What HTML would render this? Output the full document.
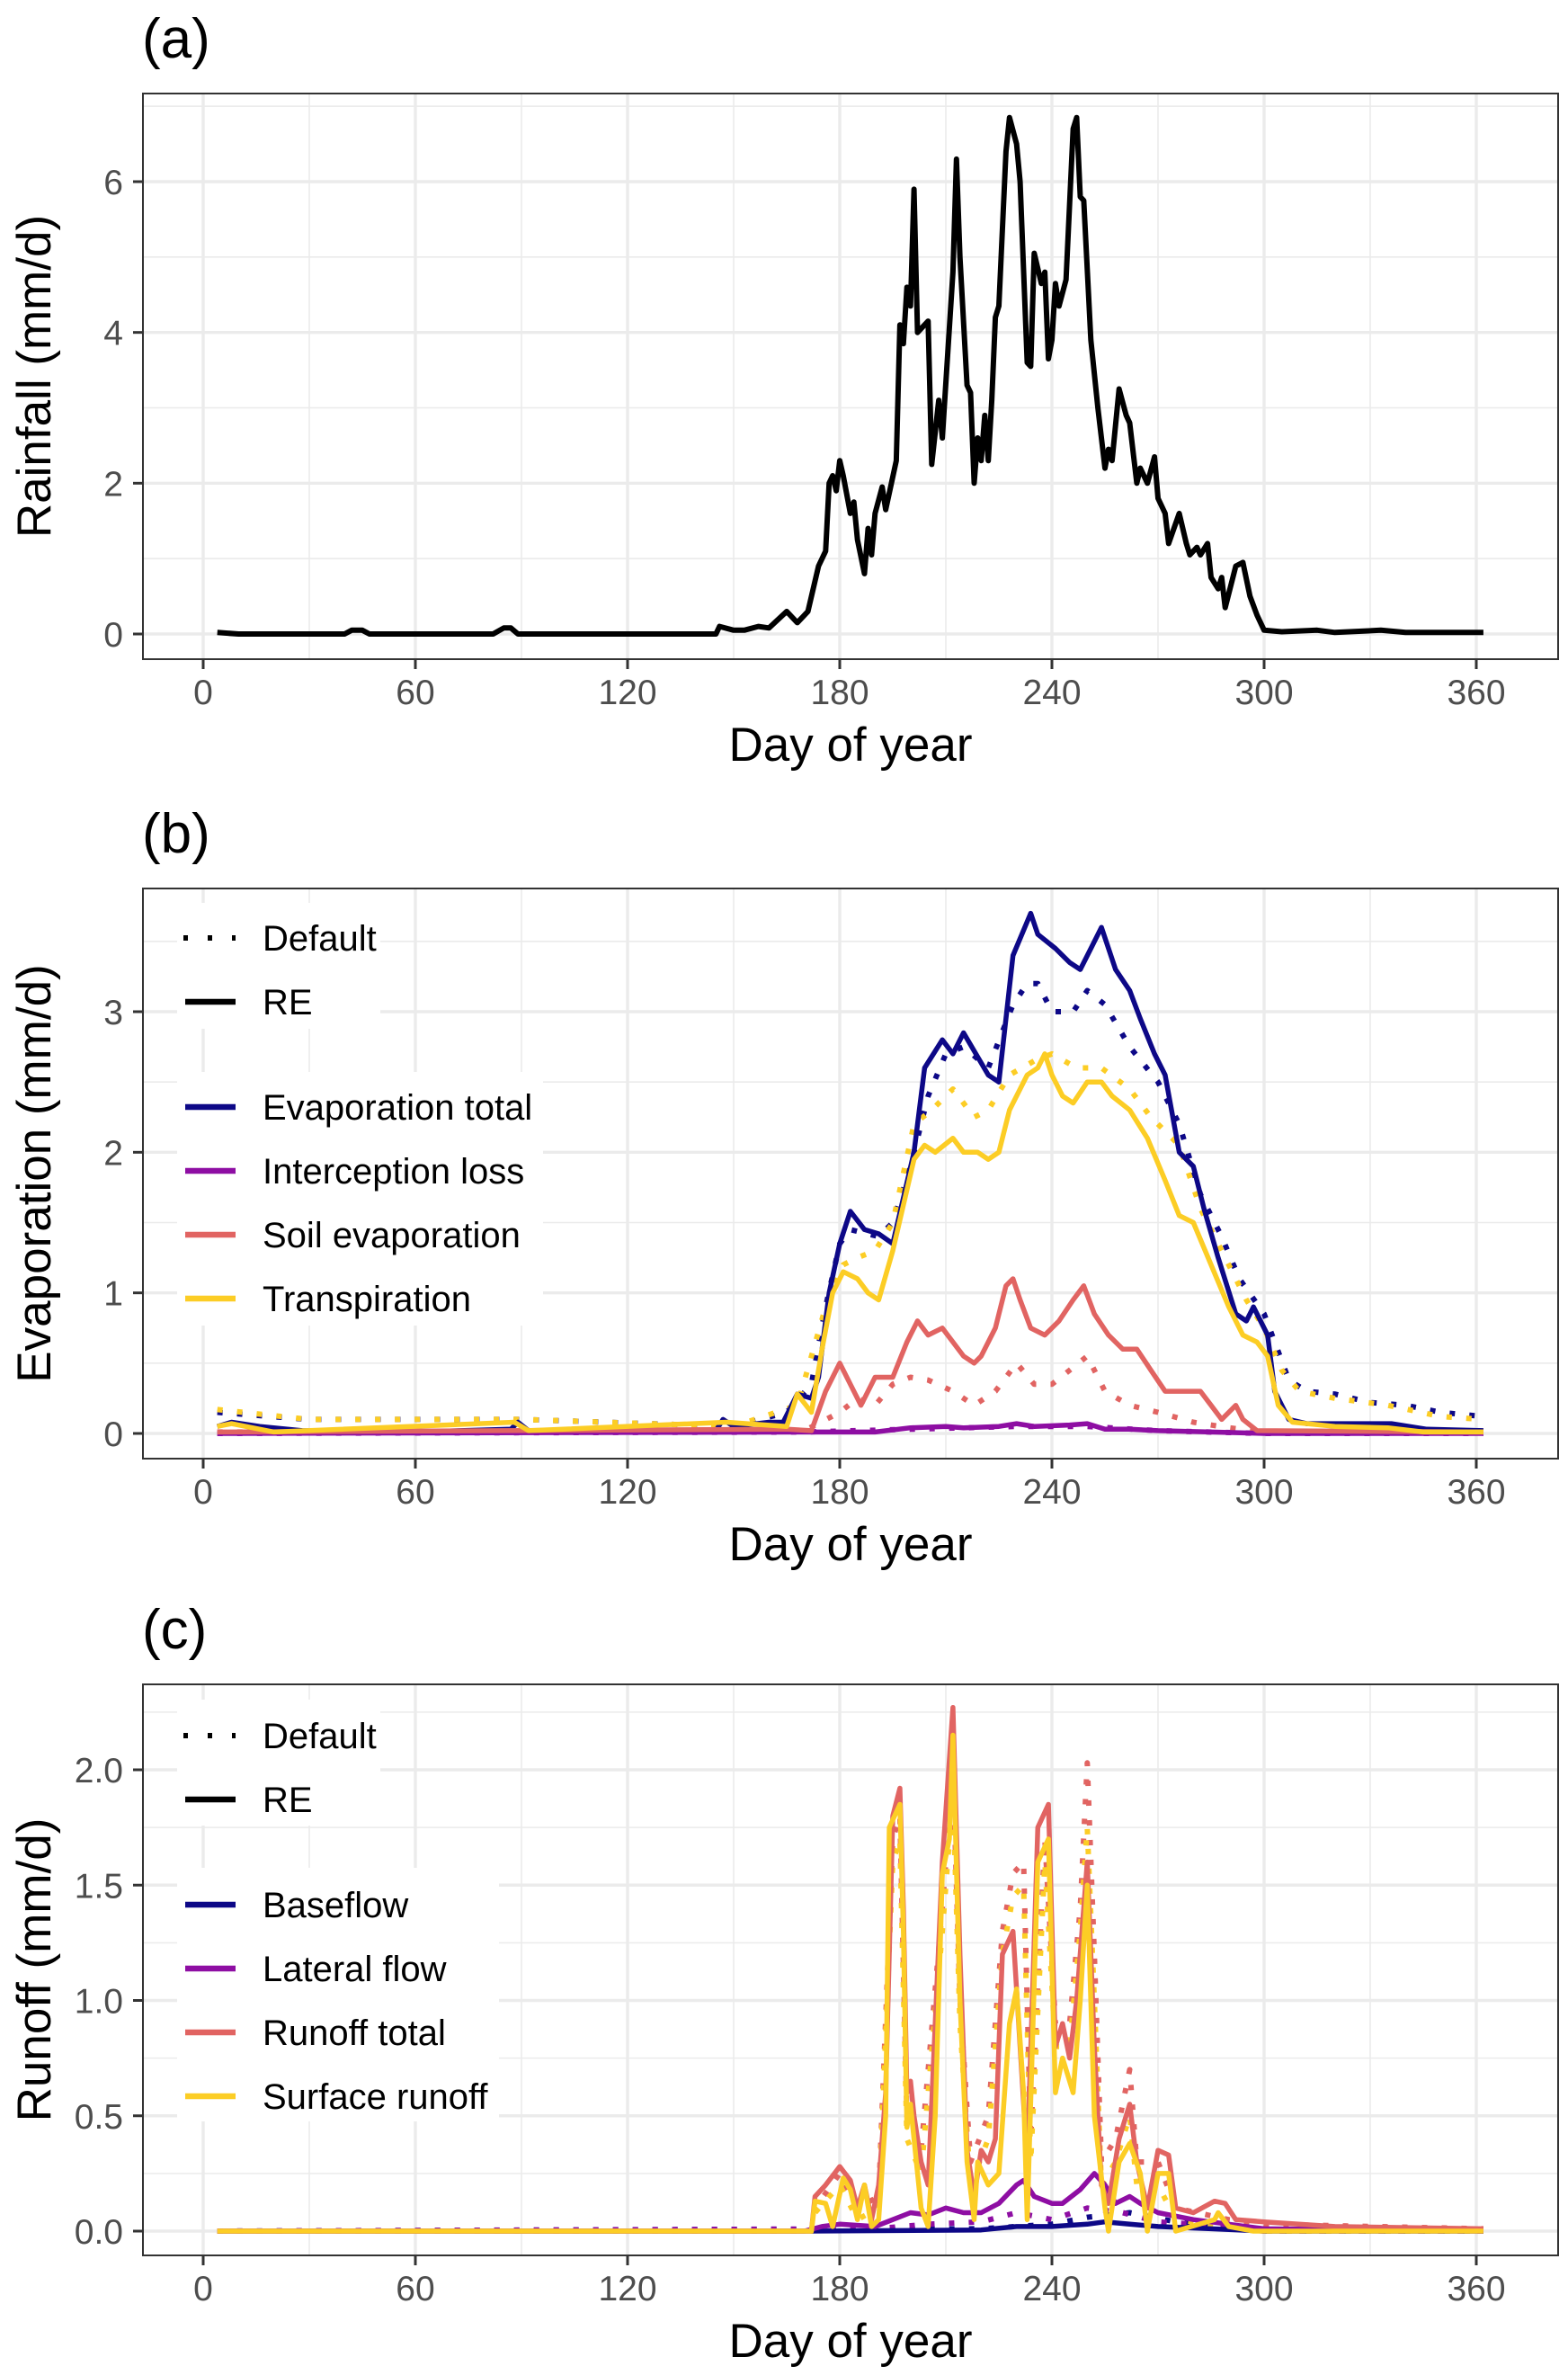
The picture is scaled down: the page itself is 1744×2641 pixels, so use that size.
<!DOCTYPE html>
<html><head><meta charset="utf-8"><style>
html,body{margin:0;padding:0;background:#fff}
svg{display:block}
text{font-family:"Liberation Sans",Arial,sans-serif}
</style></head><body>
<svg id="fig" width="1744" height="2641" viewBox="0 0 1744 2641" xmlns="http://www.w3.org/2000/svg"></svg>
<script>
// ---------- data ----------
const xTicks=[0,60,120,180,240,300,360];
const rainDays=[4,10,40,42,45,47,82,85,87,89,145,146,150,153,157,160,165,168,171,174,176,177,178,179,180,181,183,184,185,187,188,189,190,192,193,196,197,198,199,200,201,202,205,206,208,209,212,213,214,216,217,218,219,220,221,222,223,224,225,227,228,230,231,233,234,235,237,238,239,240,241,242,244,246,247,248,249,251,253,255,256,257,259,261,262,264,265,267,269,270,272,273,276,278,279,281,282,284,285,287,288,289,292,294,296,298,300,305,315,320,333,340,362];
const rainVals=[0.02,0,0,0.05,0.05,0,0,0.08,0.08,0,0,0.1,0.05,0.05,0.1,0.08,0.3,0.15,0.3,0.9,1.1,2.0,2.1,1.9,2.3,2.1,1.6,1.75,1.25,0.8,1.4,1.05,1.6,1.95,1.65,2.3,4.1,3.85,4.6,4.35,5.9,4.0,4.15,2.25,3.1,2.6,4.8,6.3,5.0,3.3,3.2,2.0,2.6,2.3,2.9,2.3,3.1,4.2,4.35,6.4,6.85,6.5,6.0,3.6,3.55,5.05,4.65,4.8,3.65,3.9,4.65,4.35,4.7,6.7,6.85,5.8,5.75,3.9,3.0,2.2,2.45,2.3,3.25,2.9,2.8,2.0,2.2,2.0,2.35,1.8,1.6,1.2,1.6,1.2,1.05,1.15,1.05,1.2,0.75,0.6,0.75,0.35,0.9,0.95,0.5,0.25,0.05,0.03,0.05,0.02,0.05,0.02,0.02];

const etDaysRE=[4,8,16,28,60,87,89,92,145,147,150,160,164,168,172,174,177,180,183,187,191,195,201,204,209,212,215,222,225,229,234,236,241,245,248,251,254,258,262,265,269,272,276,280,283,287,292,295,297,301,303,307,312,320,336,346,362];
const etValsRE=[0.05,0.08,0.05,0.02,0.01,0.03,0.08,0.02,0.02,0.1,0.05,0.08,0.08,0.28,0.25,0.4,1.0,1.35,1.58,1.45,1.42,1.35,2.0,2.6,2.8,2.7,2.85,2.55,2.5,3.4,3.7,3.55,3.45,3.35,3.3,3.45,3.6,3.3,3.15,2.95,2.7,2.55,2.0,1.9,1.6,1.25,0.85,0.8,0.9,0.7,0.3,0.1,0.07,0.07,0.07,0.03,0.02];
const etDaysDef=[4,30,90,150,165,172,176,180,183,191,195,200,205,210,215,222,229,233,236,240,246,250,255,262,270,276,282,288,293,300,303,307,312,320,330,340,350,362];
const etValsDef=[0.15,0.1,0.1,0.05,0.15,0.35,0.9,1.35,1.45,1.4,1.5,1.9,2.4,2.7,2.75,2.6,3.05,3.2,3.2,3.0,3.0,3.15,3.05,2.75,2.5,2.2,1.7,1.4,1.1,0.85,0.65,0.38,0.3,0.28,0.22,0.2,0.15,0.12];
const trDaysRE=[4,8,20,88,92,148,165,168,172,175,178,181,185,188,191,195,201,204,207,212,215,219,222,225,228,233,236,238,240,243,246,250,254,257,262,267,272,276,280,285,290,294,298,301,304,308,320,335,345,362];
const trValsRE=[0.05,0.07,0.01,0.08,0.02,0.08,0.05,0.28,0.15,0.6,1.0,1.15,1.1,1.0,0.95,1.3,1.95,2.05,2.0,2.1,2.0,2.0,1.95,2.0,2.3,2.55,2.6,2.7,2.55,2.4,2.35,2.5,2.5,2.4,2.3,2.1,1.8,1.55,1.5,1.2,0.9,0.7,0.65,0.55,0.2,0.08,0.05,0.04,0.01,0.01];
const trDaysDef=[4,30,90,150,168,176,181,185,190,195,201,206,212,218,222,228,235,240,247,254,262,268,276,282,288,295,300,305,310,320,335,350,362];
const trValsDef=[0.17,0.1,0.1,0.05,0.2,0.9,1.2,1.25,1.3,1.5,2.2,2.3,2.45,2.25,2.3,2.55,2.65,2.7,2.6,2.6,2.45,2.25,2.05,1.6,1.3,0.95,0.75,0.45,0.3,0.25,0.2,0.12,0.1];
const seDaysRE=[4,165,172,176,180,183,186,190,195,199,202,205,209,212,215,218,220,224,227,229,231,234,238,242,246,249,252,256,260,264,268,272,276,282,285,288,292,294,298,362];
const seValsRE=[0.01,0.03,0.02,0.3,0.5,0.35,0.2,0.4,0.4,0.65,0.8,0.7,0.75,0.65,0.55,0.5,0.55,0.75,1.05,1.1,0.95,0.75,0.7,0.8,0.95,1.05,0.85,0.7,0.6,0.6,0.45,0.3,0.3,0.3,0.2,0.1,0.2,0.1,0.02,0.01];
const seDaysDef=[4,170,180,185,190,195,200,205,212,218,224,230,235,240,245,250,255,262,270,280,290,300,362];
const seValsDef=[0.01,0.02,0.15,0.25,0.2,0.35,0.4,0.38,0.3,0.2,0.3,0.5,0.35,0.35,0.45,0.55,0.3,0.2,0.15,0.08,0.04,0.01,0.01];
const ilDaysRE=[4,170,190,200,210,215,225,230,235,245,250,255,262,270,285,300,362];
const ilValsRE=[0,0.01,0.01,0.04,0.05,0.04,0.05,0.07,0.05,0.06,0.07,0.03,0.03,0.02,0.01,0,0];
const ilDaysDef=[4,170,200,230,250,270,300,362];
const ilValsDef=[0,0.01,0.03,0.05,0.05,0.02,0,0];

const srDaysRE=[4,172,173,176,178,181,183,185,187,189,191,193,194,197,198,199,200,201,203,205,207,209,211,212,214,216,218,219,222,225,228,230,232,233,236,239,241,243,246,248,250,252,255,256,259,262,265,267,270,273,275,286,287,290,297,362];
const srValsRE=[0,0,0.13,0.12,0.02,0.23,0.18,0.05,0.2,0.02,0.05,0.5,1.75,1.85,1.3,0.45,0.55,0.4,0.1,0.02,0.5,1.55,1.7,2.15,1.0,0.3,0.05,0.3,0.2,0.25,0.9,1.05,0.6,0.05,1.6,1.7,0.6,0.75,0.6,1.0,1.5,0.5,0.1,0,0.3,0.38,0.25,0,0.25,0.25,0,0.05,0.08,0.02,0,0];
const rtDaysRE=[4,172,173,176,180,183,185,187,189,191,193,195,197,198,199,200,201,203,205,209,212,214,216,218,220,222,224,226,229,231,233,236,239,241,243,245,247,250,252,254,256,259,262,264,267,270,273,275,280,286,289,292,300,320,362];
const rtValsRE=[0,0,0.15,0.2,0.28,0.22,0.1,0.2,0.05,0.2,0.6,1.8,1.92,1.4,0.6,0.65,0.5,0.3,0.2,1.6,2.27,1.2,0.35,0.15,0.35,0.3,0.4,1.2,1.3,0.8,0.3,1.75,1.85,0.8,0.9,0.75,1.0,1.6,0.8,0.2,0.12,0.4,0.55,0.3,0.1,0.35,0.33,0.1,0.08,0.13,0.12,0.05,0.04,0.02,0.01];
const rtDaysDef=[4,172,173,180,185,191,195,197,199,203,209,212,214,217,222,226,229,232,234,238,241,245,248,250,252,254,258,262,264,270,275,290,300,362];
const rtValsDef=[0,0,0.1,0.25,0.1,0.15,1.7,1.8,0.5,0.35,1.4,2.0,1.0,0.3,0.5,1.3,1.55,1.6,0.4,1.7,0.9,0.9,1.4,2.03,1.2,0.3,0.4,0.7,0.3,0.3,0.1,0.05,0.03,0.01];
const srDaysDef=[4,172,173,180,185,191,195,197,199,203,209,212,214,217,222,226,229,232,234,238,241,245,248,250,252,254,258,262,264,270,275,290,300,362];
const srValsDef=[0,0,0.08,0.2,0.05,0.1,1.6,1.7,0.4,0.25,1.3,1.9,0.9,0.2,0.4,1.2,1.45,1.5,0.3,1.6,0.8,0.8,1.3,1.75,1.0,0.2,0.3,0.5,0.2,0.2,0.05,0.02,0,0];
const lfDaysRE=[4,170,175,180,190,195,200,205,210,215,220,225,230,232,235,240,243,248,252,255,258,262,265,270,280,290,300,362];
const lfValsRE=[0,0,0.02,0.03,0.02,0.05,0.08,0.07,0.1,0.08,0.08,0.12,0.2,0.22,0.15,0.12,0.12,0.18,0.25,0.2,0.12,0.15,0.12,0.08,0.05,0.03,0.01,0];
const lfDaysDef=[4,190,205,220,230,240,250,260,270,290,300,362];
const lfValsDef=[0,0.01,0.03,0.04,0.08,0.05,0.1,0.08,0.04,0.02,0,0];
const bfDaysRE=[4,170,220,230,240,250,255,262,270,285,300,362];
const bfValsRE=[0,0,0.005,0.02,0.02,0.03,0.04,0.03,0.02,0.01,0,0];
const bfDaysDef=[4,220,240,250,262,275,290,300,362];
const bfValsDef=[0,0.01,0.03,0.06,0.08,0.04,0.02,0,0];

const aTicks=[0,2,4,6], aLabels=['0','2','4','6'];
const bTicks=[0,1,2,3], bLabels=['0','1','2','3'];
const cTicks=[0,0.5,1,1.5,2], cLabels=['0.0','0.5','1.0','1.5','2.0'];

// ---------- drawing ----------
const NS='http://www.w3.org/2000/svg';
const svg=document.getElementById('fig');
const C={navy:'#0d0887',purple:'#8e0ea3',red:'#e16462',yellow:'#fccd25'};
function mk(tag,attrs,parent){const e=document.createElementNS(NS,tag);for(const k in attrs)e.setAttribute(k,attrs[k]);(parent||svg).appendChild(e);return e;}
const L=159,R=1733;
function xs(d){return 226+d*(1642-226)/360;}

function panel(o){
  const g=mk('g',{});
  
  
  const ys=v=>o.y0+(o.yRef-o.y0)*v/o.vRef;
  for(let d=30;d<=390;d+=60){const x=xs(d);if(x<R)mk('line',{x1:x,x2:x,y1:o.top,y2:o.bot,stroke:'#ebebeb','stroke-width':1.6},g);}
  for(let i=0;i<o.ticks.length+1;i++){const v=o.ticks[0]+(i-0.5)*(o.ticks[1]-o.ticks[0]);const y=ys(v);if(y>o.top&&y<o.bot)mk('line',{x1:L,x2:R,y1:y,y2:y,stroke:'#ebebeb','stroke-width':1.6},g);}
  xTicks.forEach(d=>{const x=xs(d);mk('line',{x1:x,x2:x,y1:o.top,y2:o.bot,stroke:'#ebebeb','stroke-width':3.4},g);});
  o.ticks.forEach(v=>{const y=ys(v);mk('line',{x1:L,x2:R,y1:y,y2:y,stroke:'#ebebeb','stroke-width':3.4},g);});
  if(o.legend){
    o.legend.boxes.forEach(b=>{const r=mk('rect',{x:b[0],y:b[1],width:b[2],height:b[3],fill:'#fff'},g);});
  }
  o.series.forEach(s=>{
    let d='';s.days.forEach((dd,i)=>{d+=(i?'L':'M')+xs(dd).toFixed(1)+','+ys(s.vals[i]).toFixed(1);});
    const p=mk('path',{d:d,fill:'none',stroke:s.color,'stroke-width':s.w||5.5,'stroke-linejoin':'round'},g);
    if(s.dot){p.setAttribute('stroke-dasharray','6 16');p.setAttribute('stroke-width',6);}
    
    
  });
  mk('rect',{x:L,y:o.top,width:R-L,height:o.bot-o.top,fill:'none',stroke:'#333','stroke-width':2},g);
  xTicks.forEach(d=>{const x=xs(d);mk('line',{x1:x,x2:x,y1:o.bot,y2:o.bot+11,stroke:'#333','stroke-width':3},g);
    const t=mk('text',{x:x,y:o.bot+50,'text-anchor':'middle','font-size':39,fill:'#4d4d4d'},g);t.textContent=d;});
  o.ticks.forEach((v,i)=>{const y=ys(v);mk('line',{x1:L-11,x2:L,y1:y,y2:y,stroke:'#333','stroke-width':3},g);
    const t=mk('text',{x:137,y:y+14,'text-anchor':'end','font-size':39,fill:'#4d4d4d'},g);t.textContent=o.labels[i];});
  const xt=mk('text',{x:(L+R)/2,y:o.bot+113,'text-anchor':'middle','font-size':53},g);xt.textContent='Day of year';
  
  const yc=(o.top+o.bot)/2;
  const yt=mk('text',{x:0,y:0,'text-anchor':'middle','font-size':53,transform:`translate(56,${yc}) rotate(-90)`},g);yt.textContent=o.ytitle;
  
  const tg=mk('text',{x:158,y:o.top-40,'font-size':62},g);tg.textContent=o.tag;
  
  if(o.legend){
    o.legend.items.forEach(it=>{
      const ln=mk('line',{x1:206,x2:262,y1:it.y,y2:it.y,stroke:it.color,'stroke-width':it.dot?6:6.5},g);
      if(it.dot){ln.setAttribute('stroke-dasharray','5 22');ln.setAttribute('x1',204);}
      
      const t=mk('text',{x:292,y:it.y+14,'font-size':40},g);t.textContent=it.label;
      
    });
  }
}

panel({name:'rainfall-panel',top:104,bot:733,y0:705,yRef:202,vRef:6,ticks:aTicks,labels:aLabels,ytitle:'Rainfall (mm/d)',tag:'(a)',
  series:[{name:'rainfall-line',days:rainDays,vals:rainVals,color:'#000',w:6}]});

panel({name:'evaporation-panel',top:988,bot:1622,y0:1594,yRef:1125,vRef:3,ticks:bTicks,labels:bLabels,ytitle:'Evaporation (mm/d)',tag:'(b)',
  legend:{boxes:[[197,1004,226,140],[197,1192,407,282]],items:[
    {y:1043,color:'#000',dot:true,label:'Default'},{y:1114,color:'#000',label:'RE'},
    {y:1231,color:C.navy,label:'Evaporation total'},{y:1302,color:C.purple,label:'Interception loss'},
    {y:1373,color:C.red,label:'Soil evaporation'},{y:1444,color:C.yellow,label:'Transpiration'}]},
  series:[
    {name:'evap-total-default',days:etDaysDef,vals:etValsDef,color:C.navy,dot:true},
    {name:'interception-default',days:ilDaysDef,vals:ilValsDef,color:C.purple,dot:true},
    {name:'soil-evap-default',days:seDaysDef,vals:seValsDef,color:C.red,dot:true},
    {name:'transpiration-default',days:trDaysDef,vals:trValsDef,color:C.yellow,dot:true},
    {name:'evap-total-re',days:etDaysRE,vals:etValsRE,color:C.navy},
    {name:'interception-re',days:ilDaysRE,vals:ilValsRE,color:C.purple},
    {name:'soil-evap-re',days:seDaysRE,vals:seValsRE,color:C.red},
    {name:'transpiration-re',days:trDaysRE,vals:trValsRE,color:C.yellow}]});

panel({name:'runoff-panel',top:1873,bot:2508,y0:2481,yRef:1968,vRef:2,ticks:cTicks,labels:cLabels,ytitle:'Runoff (mm/d)',tag:'(c)',
  legend:{boxes:[[197,1890,226,140],[197,2077,358,282]],items:[
    {y:1930,color:'#000',dot:true,label:'Default'},{y:2001,color:'#000',label:'RE'},
    {y:2118,color:C.navy,label:'Baseflow'},{y:2189,color:C.purple,label:'Lateral flow'},
    {y:2260,color:C.red,label:'Runoff total'},{y:2331,color:C.yellow,label:'Surface runoff'}]},
  series:[
    {name:'baseflow-default',days:bfDaysDef,vals:bfValsDef,color:C.navy,dot:true},
    {name:'lateral-default',days:lfDaysDef,vals:lfValsDef,color:C.purple,dot:true},
    {name:'runoff-total-default',days:rtDaysDef,vals:rtValsDef,color:C.red,dot:true},
    {name:'surface-runoff-default',days:srDaysDef,vals:srValsDef,color:C.yellow,dot:true},
    {name:'baseflow-re',days:bfDaysRE,vals:bfValsRE,color:C.navy},
    {name:'lateral-re',days:lfDaysRE,vals:lfValsRE,color:C.purple},
    {name:'runoff-total-re',days:rtDaysRE,vals:rtValsRE,color:C.red},
    {name:'surface-runoff-re',days:srDaysRE,vals:srValsRE,color:C.yellow}]});
</script>
</body></html>
